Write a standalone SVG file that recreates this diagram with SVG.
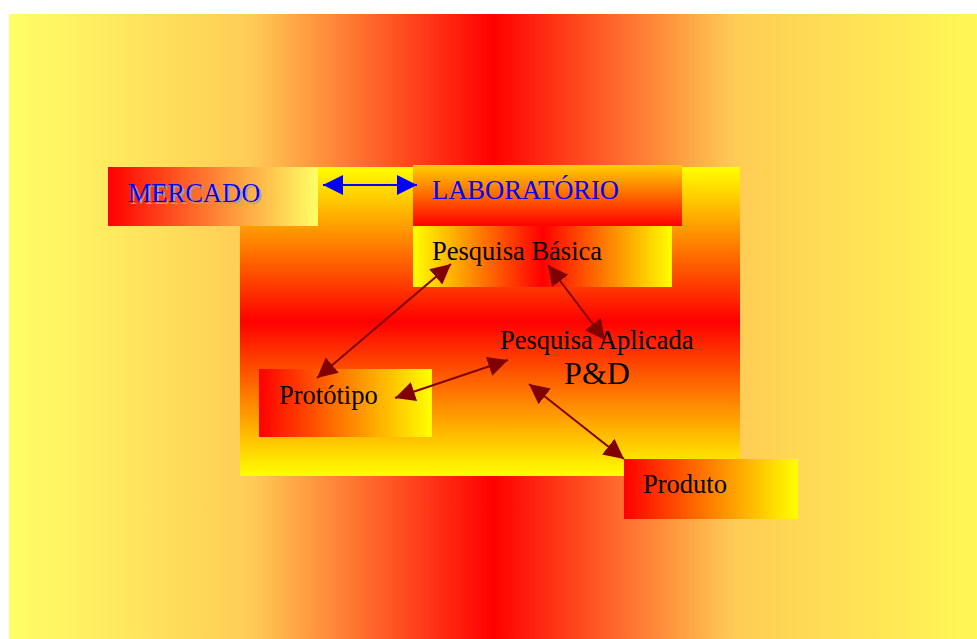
<svg xmlns="http://www.w3.org/2000/svg" width="977" height="639" viewBox="0 0 977 639">
  <style>
    .lbl { font-family: "Liberation Serif", "Times New Roman", serif; font-size: 26.5px; fill: #000; }
    .blue { fill: #0000ff; }
    .link { stroke: #800000; stroke-width: 2; fill: none; marker-start: url(#headR); marker-end: url(#headR); }
    .linkB { stroke: #0000ff; stroke-width: 2; fill: none; marker-start: url(#headB); marker-end: url(#headB); }
  </style>
  <defs>
    <filter id="shade" x="-5%" y="-20%" width="115%" height="150%">
      <feDropShadow dx="2" dy="2" stdDeviation="0" flood-color="#a0a0a0" flood-opacity="1"/>
    </filter>
    <linearGradient id="bg" x1="0" y1="0" x2="1" y2="0">
      <stop offset="0" stop-color="#ffff66"/>
      <stop offset="0.25" stop-color="#ffcc55"/>
      <stop offset="0.5" stop-color="#ff0000"/>
      <stop offset="0.75" stop-color="#ffcc55"/>
      <stop offset="1" stop-color="#fff855"/>
    </linearGradient>
    <linearGradient id="vYRY" x1="0" y1="0" x2="0" y2="1">
      <stop offset="0" stop-color="#ffff00"/>
      <stop offset="0.5" stop-color="#ff0000"/>
      <stop offset="1" stop-color="#ffff00"/>
    </linearGradient>
    <linearGradient id="hYRY" x1="0" y1="0" x2="1" y2="0">
      <stop offset="0" stop-color="#ffff00"/>
      <stop offset="0.5" stop-color="#ff0000"/>
      <stop offset="1" stop-color="#ffff00"/>
    </linearGradient>
    <linearGradient id="hRY" x1="0" y1="0" x2="1" y2="0">
      <stop offset="0" stop-color="#ff0000"/>
      <stop offset="1" stop-color="#ffff00"/>
    </linearGradient>
    <linearGradient id="hRPale" x1="0" y1="0" x2="1" y2="0">
      <stop offset="0" stop-color="#ff0000"/>
      <stop offset="1" stop-color="#ffff66"/>
    </linearGradient>
    <linearGradient id="vOR" x1="0" y1="0" x2="0" y2="1">
      <stop offset="0" stop-color="#ffd000"/>
      <stop offset="1" stop-color="#ff0000"/>
    </linearGradient>
    <marker id="headR" viewBox="0 0 20 20" refX="20" refY="10" markerWidth="20" markerHeight="20" markerUnits="userSpaceOnUse" orient="auto-start-reverse">
      <path d="M0,0 L20,10 L0,20 Z" fill="#800000"/>
    </marker>
    <marker id="headB" viewBox="0 0 20 20" refX="20" refY="10" markerWidth="20" markerHeight="20" markerUnits="userSpaceOnUse" orient="auto-start-reverse">
      <path d="M0,0 L20,10 L0,20 Z" fill="#0000ff"/>
    </marker>
  </defs>

  <!-- page background -->
  <rect x="9" y="14" width="968" height="625" fill="url(#bg)"/>

  <!-- laboratory area -->
  <g id="lab-area">
    <rect x="240" y="167" width="500" height="309" fill="url(#vYRY)"/>
  </g>

  <g id="mercado">
    <rect x="108" y="167" width="210" height="59" fill="url(#hRPale)"/>
    <text class="lbl blue" x="128" y="202" filter="url(#shade)">MERCADO</text>
  </g>

  <g id="laboratorio">
    <rect x="413" y="165" width="269" height="61" fill="url(#vOR)"/>
    <text class="lbl blue" x="432" y="199">LABORATÓRIO</text>
  </g>

  <g id="pesquisa-basica">
    <rect x="413" y="226" width="259" height="61" fill="url(#hYRY)"/>
    <text class="lbl" x="432" y="260">Pesquisa Básica</text>
  </g>

  <g id="pesquisa-aplicada">
    <text class="lbl" x="500" y="349">Pesquisa Aplicada</text>
    <text class="lbl" x="597" y="384" text-anchor="middle" style="font-size:32px">P&amp;D</text>
  </g>

  <g id="prototipo">
    <rect x="259" y="369" width="173" height="68" fill="url(#hRY)"/>
    <text class="lbl" x="279" y="404">Protótipo</text>
  </g>

  <g id="produto">
    <rect x="624" y="459" width="174" height="60" fill="url(#hRY)"/>
    <text class="lbl" x="643" y="493">Produto</text>
  </g>

  <g id="connectors">
    <line class="linkB" x1="323" y1="185" x2="417" y2="185"/>
    <line class="link" x1="317" y1="378" x2="451" y2="264"/>
    <line class="link" x1="395" y1="398" x2="508" y2="360"/>
    <line class="link" x1="548" y1="265" x2="605" y2="340"/>
    <line class="link" x1="529" y1="384" x2="624" y2="459"/>
  </g>
</svg>
